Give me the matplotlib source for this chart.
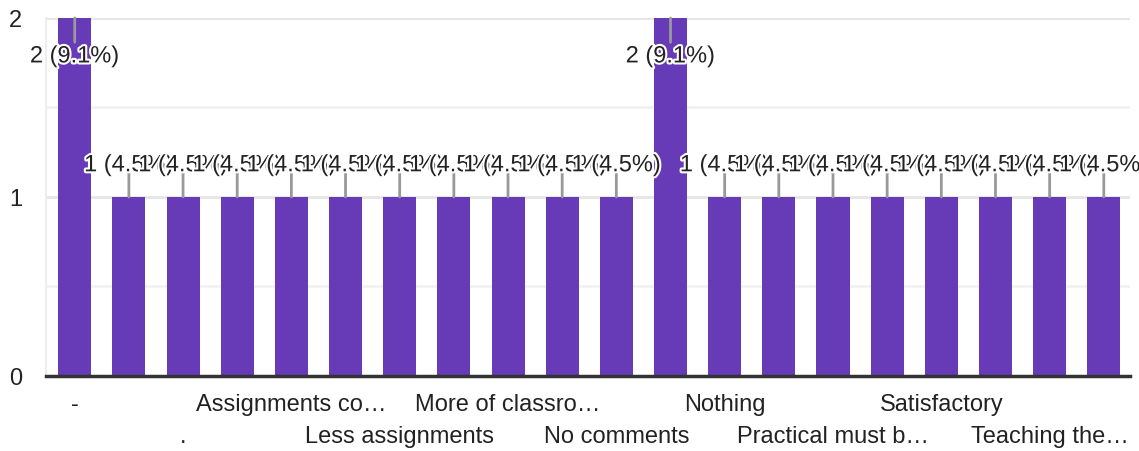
import matplotlib
matplotlib.use("Agg")
import matplotlib.pyplot as plt
import matplotlib.patheffects as pe

# responses per answer (sorted as in the form summary), hidden labels left blank
tick_labels = ["-", "", ".", "", "Assignments co…", "", "Less assignments", "",
               "More of classro…", "", "No comments", "", "Nothing", "",
               "Practical must b…", "", "Satisfactory", "", "Teaching the…", ""]
counts = [2, 1, 1, 1, 1, 1, 1, 1, 1, 1, 1, 2, 1, 1, 1, 1, 1, 1, 1, 1]
total = 22

plt.rcParams['font.family'] = ['Liberation Sans', 'DejaVu Sans']

fig = plt.figure(figsize=(11.39, 4.52), dpi=100)
ax = fig.add_axes([0.0404, 0.166, 0.952, 0.792])

x = list(range(len(counts)))
ax.bar(x, counts, width=0.61, color='#673ab7', zorder=2)

# light grid
for y, c in [(0.5, '#f2f2f2'), (1.5, '#f2f2f2'), (1, '#e6e6e6'), (2, '#e6e6e6')]:
    ax.axhline(y, color=c, lw=2, zorder=1)

halo = [pe.withStroke(linewidth=3, foreground='white')]
for i, v in enumerate(counts):
    label = "{} ({:.1f}%)".format(v, v * 100 / total)
    if v == max(counts):
        # label sits inside the tall bar
        ax.annotate("", xy=(i, v), xytext=(0, -17.5), textcoords='offset points',
                    arrowprops=dict(arrowstyle='-', color='#999999', lw=2,
                                    shrinkA=0, shrinkB=0), zorder=3)
        ax.annotate(label, xy=(i, v), xytext=(0, -32), textcoords='offset points',
                    ha='center', va='baseline', fontsize=17, color='#222222',
                    path_effects=halo, zorder=4)
    else:
        ax.annotate("", xy=(i, v), xytext=(0, 17.5), textcoords='offset points',
                    arrowprops=dict(arrowstyle='-', color='#999999', lw=2,
                                    shrinkA=0, shrinkB=0), zorder=3)
        ax.annotate(label, xy=(i, v), xytext=(0, 18.5), textcoords='offset points',
                    ha='center', va='baseline', fontsize=17, color='#222222',
                    path_effects=halo, zorder=4)

ax.set_xlim(-0.53, 19.49)
ax.set_ylim(0, 2)
ax.set_yticks([0, 1, 2])
ax.set_yticklabels(['0', '1', '2'])
ax.set_xticks(x)
ax.set_xticklabels(tick_labels)
ax.tick_params(axis='both', length=0, labelsize=17, labelcolor='#222222')
ax.tick_params(axis='y', pad=17)
for i, t in enumerate(ax.xaxis.get_major_ticks()):
    t.set_pad(12 if i % 4 == 0 else 35)

for side in ['top', 'right']:
    ax.spines[side].set_visible(False)
ax.spines['left'].set_color('#eeeeee')
ax.spines['left'].set_linewidth(1.5)
ax.spines['bottom'].set_color('#333333')
ax.spines['bottom'].set_linewidth(2.5)
ax.spines['bottom'].set_zorder(5)

fig.savefig('out.png', dpi=100)
